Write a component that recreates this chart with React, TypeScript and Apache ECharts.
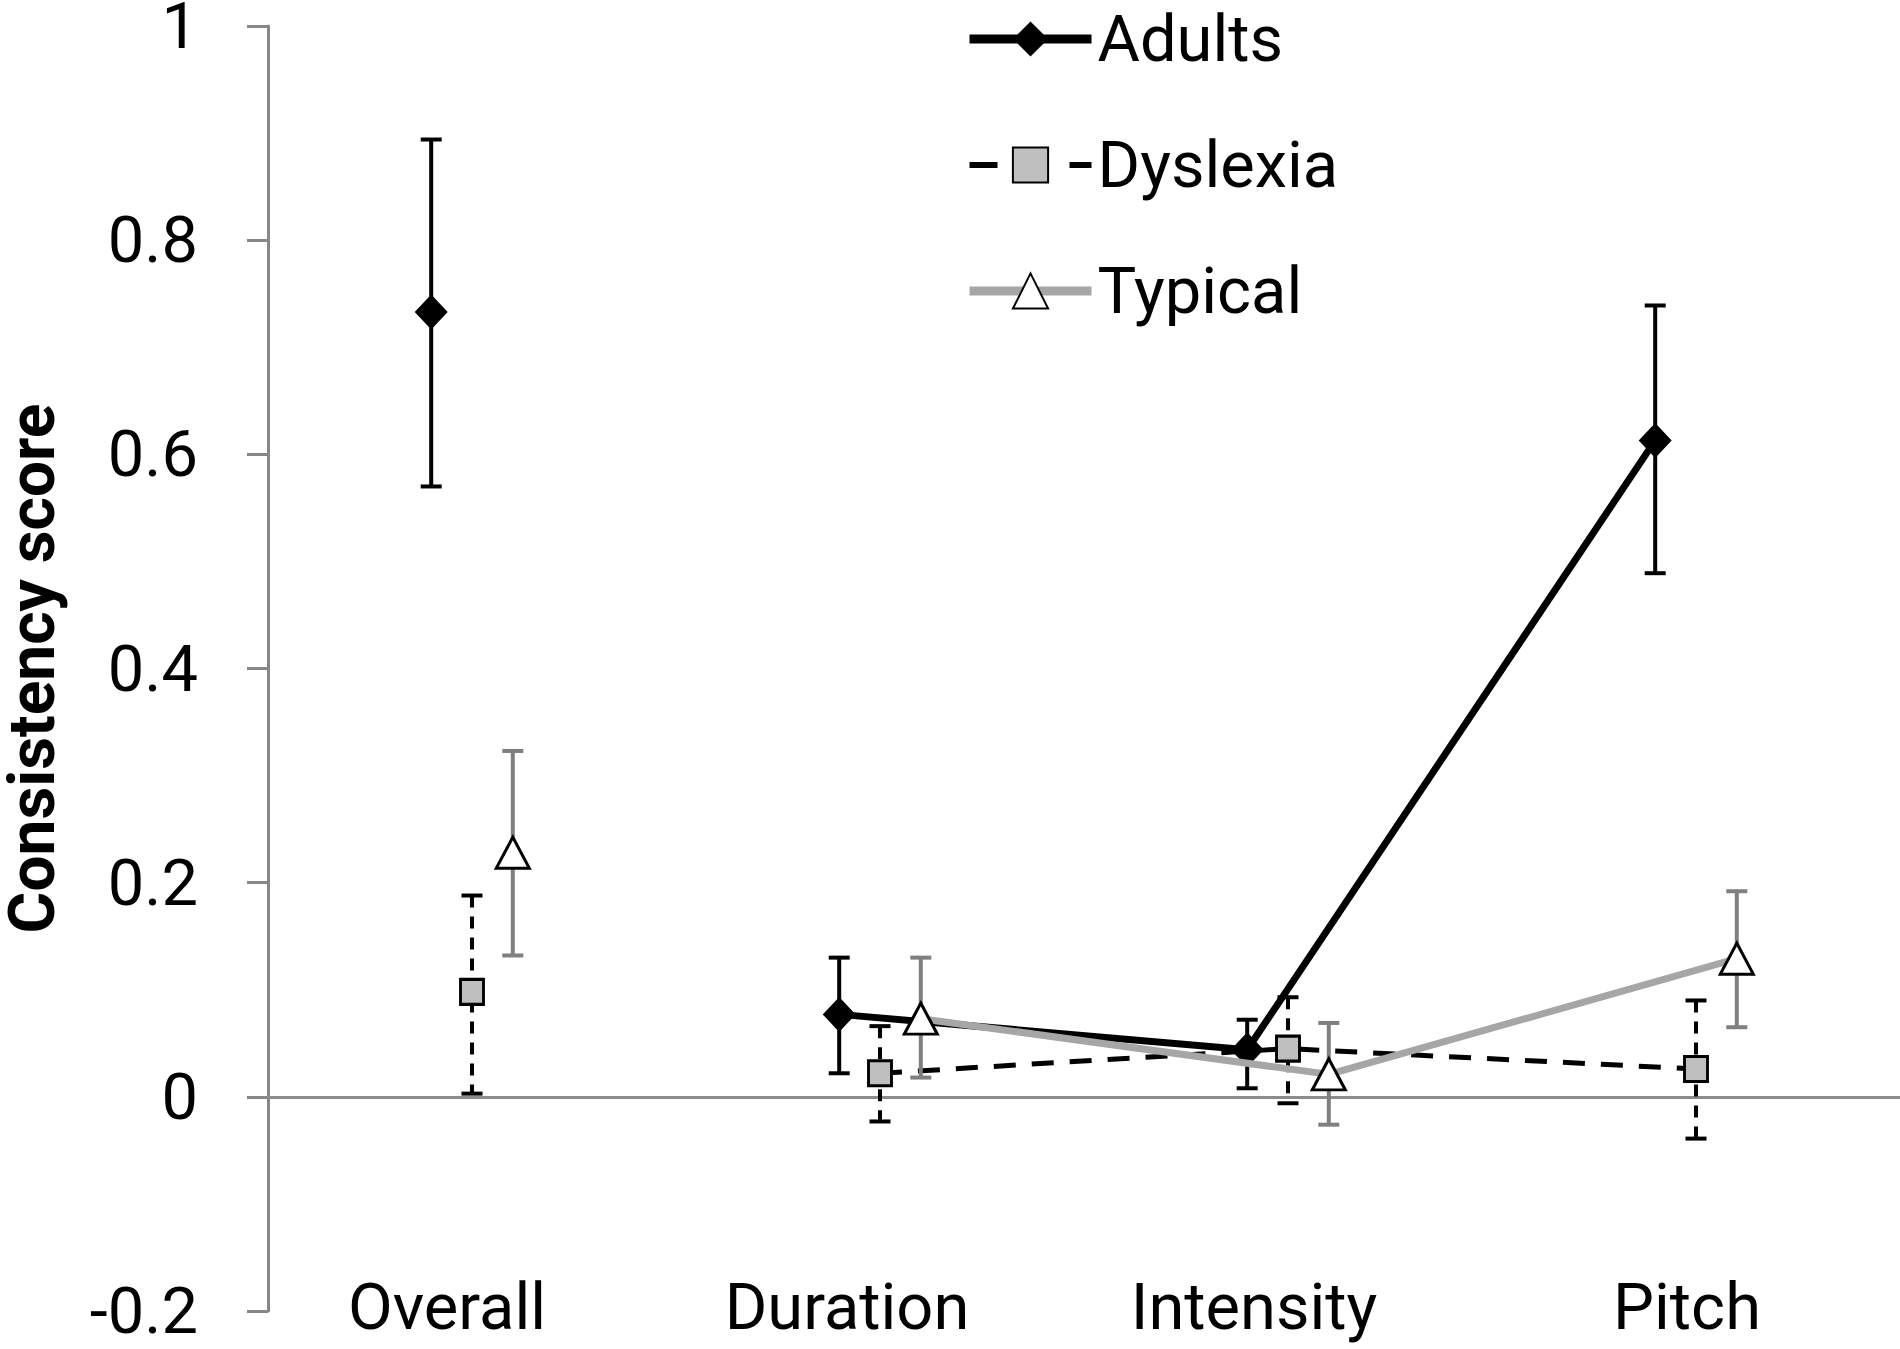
import React, { useEffect, useRef } from "react";
import * as echarts from "echarts";

const categories = ["Overall", "Duration", "Intensity", "Pitch"];
const seriesNames = ["Adults", "Dyslexia", "Typical"];

const adultsMean = [0.733, 0.077, 0.044, 0.613];
const adultsLow = [0.57, 0.022, 0.008, 0.489];
const adultsHigh = [0.894, 0.13, 0.072, 0.739];

const dyslexiaMean = [0.098, 0.022, 0.045, 0.026];
const dyslexiaLow = [0.003, -0.023, -0.006, -0.039];
const dyslexiaHigh = [0.188, 0.066, 0.093, 0.09];

const typicalMean = [0.228, 0.073, 0.021, 0.129];
const typicalLow = [0.132, 0.018, -0.026, 0.065];
const typicalHigh = [0.323, 0.13, 0.069, 0.192];

const yMin = -0.2;
const yMax = 1;
const yStep = 0.2;

const FONT = "Roboto, 'Open Sans', sans-serif";
const labelShift = [50, 66, 68, 18];
const groupOffset = [-0.1, 0, 0.1];

function lineData(mean: number[], off: number) {
  const out: any[] = [];
  mean.forEach((v, i) => {
    out.push([i + 0.5 + off, v]);
    if (i === 0) out.push([1 + off, "-"]);
  });
  return out;
}

function errData(low: number[], high: number[], off: number) {
  return low.map((l, i) => [i + 0.5 + off, l, high[i]]);
}

function errSeries(name: string, data: any[], color: string, width: number, dash: number[] | null, z: number) {
  return {
    type: "custom",
    name: name + " err",
    xAxisIndex: 1,
    z,
    silent: true,
    encode: { x: 0, y: [1, 2] },
    data,
    renderItem: (params: any, api: any) => {
      const x = api.value(0);
      const lo = api.coord([x, api.value(1)]);
      const hi = api.coord([x, api.value(2)]);
      const hw = 10.5;
      const style: any = { stroke: color, lineWidth: width };
      const vstyle: any = { stroke: color, lineWidth: width };
      if (dash) vstyle.lineDash = dash;
      return {
        type: "group",
        children: [
          { type: "line", shape: { x1: hi[0], y1: hi[1], x2: lo[0], y2: lo[1] }, style: vstyle },
          { type: "line", shape: { x1: hi[0] - hw, y1: hi[1], x2: hi[0] + hw, y2: hi[1] }, style },
          { type: "line", shape: { x1: lo[0] - hw, y1: lo[1], x2: lo[0] + hw, y2: lo[1] }, style },
        ],
      };
    },
  };
}

export default function App() {
  const ref = useRef<HTMLDivElement>(null);
  useEffect(() => {
    document.body.style.margin = "0";
    const chart = echarts.init(ref.current!, null, { renderer: "svg" });
    const option: any = {
      animation: false,
      backgroundColor: "#ffffff",
      grid: { left: 268, right: 0, top: 26, bottom: 38, containLabel: false, outerBoundsMode: "none" },
      legend: {
        orient: "vertical",
        left: 965,
        top: 4,
        padding: 0,
        itemWidth: 122,
        itemHeight: 44,
        itemGap: 56,
        selectedMode: false,
        data: [
          { name: seriesNames[0], lineStyle: { width: 9 } },
          { name: seriesNames[1], lineStyle: { width: 6, type: [28, 22] } },
          { name: seriesNames[2], lineStyle: { width: 9 } },
        ],
        textStyle: {
          fontFamily: FONT,
          fontSize: 65,
          color: "#000",
          lineHeight: 70,
          padding: [0, 0, 0, 1],
        },
      },
      xAxis: [
        {
          type: "category",
          data: categories.map((c, i) => ({
            value: c,
            textStyle: { padding: [0, labelShift[i], 0, 0] },
          })),
          boundaryGap: true,
          axisLine: { show: false },
          axisTick: { show: false },
          splitLine: { show: false },
          axisLabel: {
            fontFamily: FONT,
            fontSize: 65,
            color: "#000",
            margin: -37,
            interval: 0,
          },
        },
        {
          type: "value",
          min: 0,
          max: 4,
          show: false,
        },
      ],
      yAxis: {
        type: "value",
        min: yMin,
        max: yMax,
        interval: yStep,
        name: "Consistency score",
        nameLocation: "middle",
        nameGap: 204,
        nameTextStyle: { fontFamily: FONT, fontSize: 64, fontWeight: "bold", color: "#000" },
        axisLine: { show: true, lineStyle: { color: "#878787", width: 3 } },
        axisTick: { show: true, inside: false, length: 21, lineStyle: { color: "#878787", width: 3 } },
        splitLine: { show: false },
        axisLabel: {
          fontFamily: FONT,
          fontSize: 65,
          color: "#000",
          margin: 70,
          formatter: (v: number) => String(Math.round(v * 10) / 10),
        },
      },
      series: [
        errSeries("Adults", errData(adultsLow, adultsHigh, groupOffset[0]), "#000000", 4, null, 2),
        {
          type: "line",
          name: "Adults",
          xAxisIndex: 1,
          z: 3,
          data: lineData(adultsMean, groupOffset[0]),
          connectNulls: false,
          symbol: "diamond",
          symbolSize: [33, 35],
          showAllSymbol: true,
          lineStyle: { color: "#000000", width: 7 },
          itemStyle: { color: "#000000", borderColor: "#000000", borderWidth: 0 },
          markLine: {
            silent: true,
            symbol: "none",
            label: { show: false },
            lineStyle: { color: "#8c8c8c", width: 3, type: "solid" },
            data: [{ yAxis: 0 }],
            z: 1,
          },
        },
        errSeries("Dyslexia", errData(dyslexiaLow, dyslexiaHigh, groupOffset[1]), "#000000", 4, [12, 9], 4),
        {
          type: "line",
          name: "Dyslexia",
          xAxisIndex: 1,
          z: 5,
          data: lineData(dyslexiaMean, groupOffset[1]),
          connectNulls: false,
          symbol: "rect",
          symbolSize: [23, 25],
          showAllSymbol: true,
          lineStyle: { color: "#000000", width: 5, type: [22, 16] },
          itemStyle: { color: "#bfbfbf", borderColor: "#000000", borderWidth: 3 },
        },
        errSeries("Typical", errData(typicalLow, typicalHigh, groupOffset[2]), "#7f7f7f", 4, null, 6),
        {
          type: "line",
          name: "Typical",
          xAxisIndex: 1,
          z: 7,
          data: lineData(typicalMean, groupOffset[2]),
          connectNulls: false,
          symbol: "triangle",
          symbolSize: [33, 31],
          showAllSymbol: true,
          lineStyle: { color: "#a6a6a6", width: 7 },
          itemStyle: { color: "#ffffff", borderColor: "#000000", borderWidth: 3 },
        },
      ],
    };
    chart.setOption(option);
    return () => chart.dispose();
  }, []);
  return (
    <div
      ref={ref}
      style={{ position: "absolute", left: 0, top: 0, width: 1900, height: 1349, background: "#fff" }}
    />
  );
}
